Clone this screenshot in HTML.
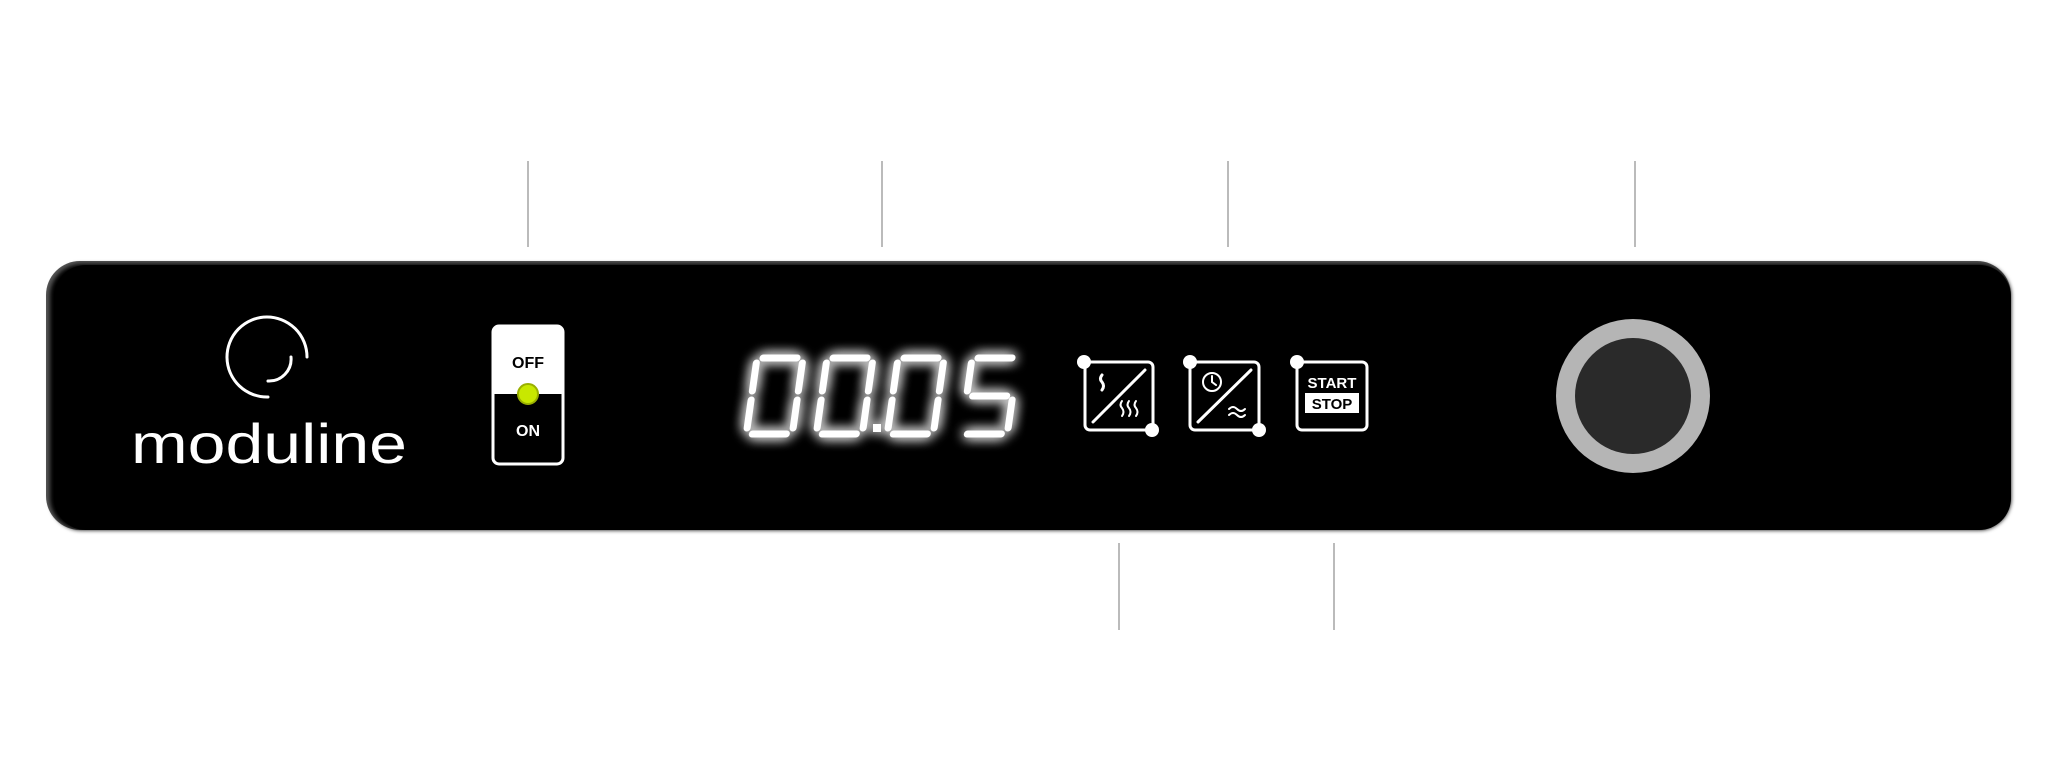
<!DOCTYPE html>
<html><head><meta charset="utf-8"><style>
html,body{margin:0;padding:0;background:#fff;width:2048px;height:763px;overflow:hidden}
svg{display:block}
</style></head><body>
<svg width="2048" height="763" viewBox="0 0 2048 763" xmlns="http://www.w3.org/2000/svg">
<defs>
<filter id="glow" x="-30%" y="-30%" width="160%" height="160%">
<feGaussianBlur in="SourceGraphic" stdDeviation="6" result="b"/>
<feMerge><feMergeNode in="b"/><feMergeNode in="b"/><feMergeNode in="SourceGraphic"/></feMerge>
</filter>
<filter id="soft"><feGaussianBlur stdDeviation="2"/></filter>
<g id="d0" stroke="#fff" stroke-width="7" stroke-linecap="round" fill="none">
<path d="M6 0H40M46 5V33M46 42V70M6 76H40M0 42V70M0 5V33"/>
</g>
</defs>
<g stroke="#bbb" stroke-width="2">
<line x1="528" y1="161" x2="528" y2="247"/>
<line x1="882" y1="161" x2="882" y2="247"/>
<line x1="1228" y1="161" x2="1228" y2="247"/>
<line x1="1635" y1="161" x2="1635" y2="247"/>
<line x1="1119" y1="543" x2="1119" y2="630"/>
<line x1="1334" y1="543" x2="1334" y2="630"/>
</g>
<rect x="46" y="261" width="1965" height="269" rx="34" fill="#555"/>
<rect x="50" y="264" width="1961" height="266" rx="32" fill="#000" filter="url(#soft)"/>
<rect x="54" y="265" width="1957" height="265" rx="32" fill="#000"/>
<!-- logo -->
<g fill="none" stroke="#fff" stroke-width="3" stroke-linecap="round">
<path d="M268 397 A40 40 0 1 1 307 357"/>
<path d="M291 357 A22 22 0 0 1 268 381"/>
</g>
<text x="131" y="463" font-family="Liberation Sans, sans-serif" font-size="56" fill="#fff" stroke="#000" stroke-width="1.5" paint-order="stroke" textLength="276" lengthAdjust="spacingAndGlyphs">moduline</text>
<!-- switch -->
<rect x="493" y="326" width="70" height="138" rx="6" fill="#000" stroke="#fff" stroke-width="3"/>
<path d="M493 332 a6 6 0 0 1 6 -6 h58 a6 6 0 0 1 6 6 v62 h-70z" fill="#fff"/>
<text x="528" y="368" font-family="Liberation Sans, sans-serif" font-size="16" font-weight="bold" text-anchor="middle" fill="#000">OFF</text>
<text x="528" y="436" font-family="Liberation Sans, sans-serif" font-size="16" font-weight="bold" text-anchor="middle" fill="#fff">ON</text>
<circle cx="528" cy="394" r="10" fill="#c8e800" stroke="#9ab000" stroke-width="2"/>
<!-- digits -->
<g filter="url(#glow)">
<g transform="translate(757,358) skewX(-8)"><use href="#d0"/></g>
<g transform="translate(827,358) skewX(-8)"><use href="#d0"/></g>
<rect x="873" y="424" width="8" height="8" fill="#fff"/>
<g transform="translate(898,358) skewX(-8)"><use href="#d0"/></g>
<g transform="translate(972,358) skewX(-8)" stroke="#fff" stroke-width="7" stroke-linecap="round" fill="none">
<path d="M6 0H40M0 5V33M6 38H40M46 42V70M6 76H40"/>
</g>
</g>
<!-- icons -->
<g fill="none" stroke="#fff" stroke-width="3" stroke-linecap="round">
<rect x="1085" y="362" width="68" height="68" rx="5"/>
<line x1="1093" y1="422" x2="1145" y2="370"/>
<path d="M1102 375 q-3 4 0 7 q3 4 0 8"/>
<path d="M1122 401 q-3 4 0 7 q3 4 0 8 M1129 401 q-3 4 0 7 q3 4 0 8 M1136 401 q-3 4 0 7 q3 4 0 8" stroke-width="2"/>
<rect x="1190" y="362" width="69" height="68" rx="5"/>
<line x1="1198" y1="422" x2="1251" y2="370"/>
<circle cx="1212" cy="382" r="9" stroke-width="2"/>
<path d="M1212 376 v6 l4 3" stroke-width="2"/>
<path d="M1229 409 q4 -4 8 0 t8 0 M1229 415 q4 -4 8 0 t8 0" stroke-width="2"/>
<rect x="1297" y="362" width="70" height="68" rx="5"/>
</g>
<g fill="#fff">
<circle cx="1084" cy="362" r="7"/><circle cx="1152" cy="430" r="7"/>
<circle cx="1190" cy="362" r="7"/><circle cx="1259" cy="430" r="7"/>
<circle cx="1297" cy="362" r="7"/>
<rect x="1305" y="393" width="54" height="20"/>
</g>
<text x="1332" y="388" font-family="Liberation Sans, sans-serif" font-size="15" font-weight="bold" text-anchor="middle" fill="#fff">START</text>
<text x="1332" y="409" font-family="Liberation Sans, sans-serif" font-size="15" font-weight="bold" text-anchor="middle" fill="#000">STOP</text>
<!-- knob -->
<circle cx="1633" cy="396" r="77" fill="#b5b5b5"/>
<circle cx="1633" cy="396" r="58" fill="#2a2a2a"/>
</svg>
</body></html>
